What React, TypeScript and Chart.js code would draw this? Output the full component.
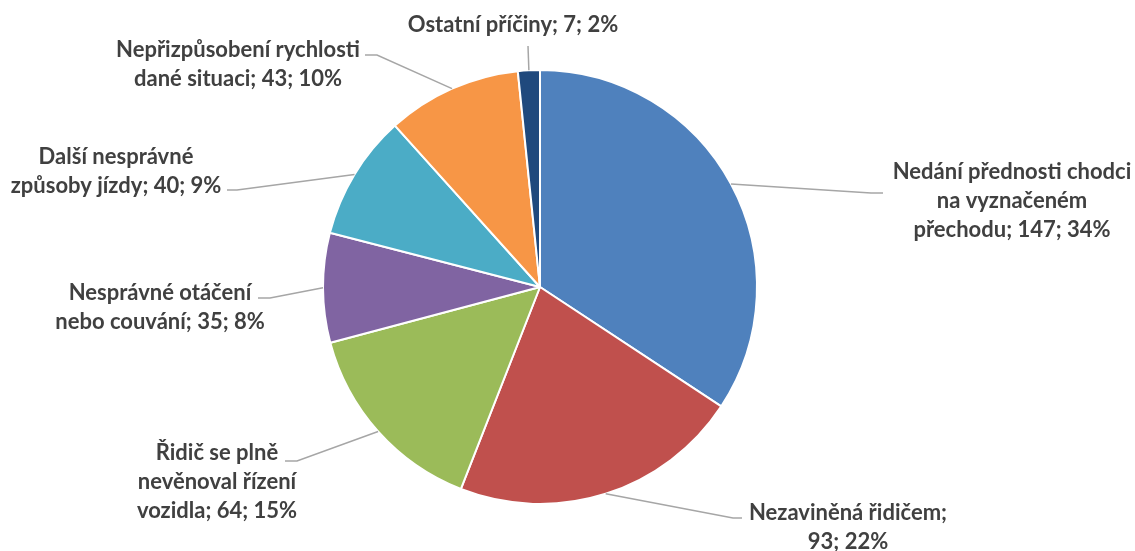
import React, { useEffect, useRef } from "react";
import { Chart, registerables } from "chart.js";

Chart.register(...registerables);

const categories = [
  "Nedání přednosti chodci na vyznačeném přechodu",
  "Nezaviněná řidičem",
  "Řidič se plně nevěnoval řízení vozidla",
  "Nesprávné otáčení nebo couvání",
  "Další nesprávné způsoby jízdy",
  "Nepřizpůsobení rychlosti dané situaci",
  "Ostatní příčiny",
];
const values = [147, 93, 64, 35, 40, 43, 7];
const colors = ["#4F81BD", "#C0504D", "#9BBB59", "#8064A2", "#4BACC6", "#F79646", "#1F497D"];

// words per line for each data label
const wrapWords = [[3, 2, 3], [2, 2], [3, 2, 3], [2, 4], [2, 4], [2, 4], [4]];
// label layout: [centerX, firstLineY, elbowX, elbowY, endX, endY]
const labelLayout = [
  [1012, 172, 871, 193, 883, 193],
  [848, 513, 733, 518, 742, 518],
  [217, 453, 297, 461, 285, 461],
  [160, 293, 270, 298, 258, 298],
  [116, 157, 237, 190, 227, 190],
  [238, 50, 377, 55, 365, 55],
  [513, 25, 528, 46, 528, 46],
];

const LINE_H = 29;

const labelPlugin = {
  id: "pieLabels",
  afterDraw(chart: any) {
    const ctx = chart.ctx;
    const meta = chart.getDatasetMeta(0);
    const data = chart.data.datasets[0].data as number[];
    const total = data.reduce((a, b) => a + b, 0);
    ctx.save();
    meta.data.forEach((arc: any, i: number) => {
      const p = arc.getProps(["x", "y", "startAngle", "endAngle", "outerRadius"], true);
      const mid = (p.startAngle + p.endAngle) / 2;
      const sx = p.x + Math.cos(mid) * p.outerRadius;
      const sy = p.y + Math.sin(mid) * p.outerRadius;
      const [cx, y0, ex, ey, tx, ty] = labelLayout[i];
      ctx.strokeStyle = "#A6A6A6";
      ctx.lineWidth = 1.5;
      ctx.beginPath();
      ctx.moveTo(sx, sy);
      ctx.lineTo(ex, ey);
      ctx.lineTo(tx, ty);
      ctx.stroke();

      const pct = Math.round((data[i] / total) * 100);
      const full = `${chart.data.labels[i]}; ${data[i]}; ${pct}%`;
      const words = full.split(" ");
      const lines: string[] = [];
      let k = 0;
      wrapWords[i].forEach((n) => {
        lines.push(words.slice(k, k + n).join(" "));
        k += n;
      });
      ctx.fillStyle = "#404040";
      ctx.font = "bold 22px Lato";
      ctx.textAlign = "center";
      ctx.textBaseline = "middle";
      lines.forEach((ln, j) => ctx.fillText(ln, cx, y0 + j * LINE_H));
    });
    ctx.restore();
  },
};

export default function App() {
  const ref = useRef<HTMLCanvasElement>(null);
  useEffect(() => {
    const chart = new Chart(ref.current!, {
      type: "pie",
      data: {
        labels: categories,
        datasets: [
          {
            data: values,
            backgroundColor: colors,
            borderColor: "#FFFFFF",
            borderWidth: 2,
          },
        ],
      },
      options: {
        responsive: false,
        animation: false,
        layout: { padding: { top: 69, bottom: 46, left: 322, right: 377 } },
        plugins: { legend: { display: false }, tooltip: { enabled: false } },
      },
      plugins: [labelPlugin],
    });
    return () => chart.destroy();
  }, []);
  return (
    <div style={{ position: "fixed", left: 0, top: 0, width: 1135, height: 551, background: "#fff" }}>
      <canvas ref={ref} width={1135} height={551} />
    </div>
  );
}
